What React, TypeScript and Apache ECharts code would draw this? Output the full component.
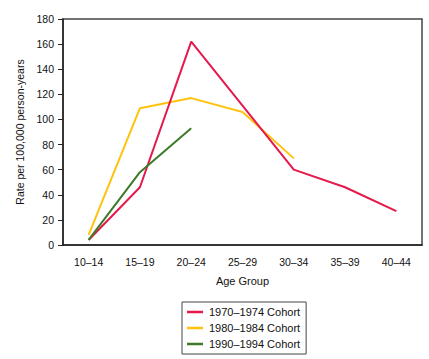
import React, { useEffect, useRef } from "react";
import * as echarts from "echarts";

const categories = ["10–14", "15–19", "20–24", "25–29", "30–34", "35–39", "40–44"];
const cohort1970 = [4, 46, 162, 111, 60, 46, 27];
const cohort1980 = [8, 109, 117, 106, 69, null, null];
const cohort1990 = [4, 58, 93, null, null, null, null];
const yTicks = { min: 0, max: 180, interval: 20 };

const FONT = "Liberation Sans, Arial, sans-serif";

export default function App() {
  const ref = useRef<HTMLDivElement>(null);
  useEffect(() => {
    if (!ref.current) return;
    const chart = echarts.init(ref.current, null, { renderer: "svg" });
    chart.setOption({
      animation: false,
      backgroundColor: "#fff",
      textStyle: { fontFamily: FONT },
      grid: {
        left: 63,
        top: 19,
        width: 359,
        height: 226,
        show: true,
        borderColor: "#444",
        borderWidth: 1.5,
      },
      legend: {
        orient: "vertical",
        left: 182,
        top: 302,
        padding: [4, 6, 4, 5],
        borderColor: "#444",
        borderWidth: 1,
        itemWidth: 16,
        itemHeight: 2.5,
        itemGap: 4,
        icon: "rect",
        textStyle: { fontSize: 11, color: "#111", fontFamily: FONT, lineHeight: 12, padding: [0, 0, 0, 1] },
        data: ["1970–1974 Cohort", "1980–1984 Cohort", "1990–1994 Cohort"],
      },
      xAxis: {
        type: "category",
        data: categories,
        boundaryGap: true,
        name: "Age Group",
        nameLocation: "middle",
        nameGap: 30,
        nameTextStyle: { fontSize: 11, color: "#111", fontFamily: FONT },
        axisLine: { lineStyle: { color: "#222", width: 1.5 } },
        axisTick: { alignWithLabel: true, length: 5, lineStyle: { color: "#222" } },
        axisLabel: { fontSize: 10.5, color: "#111", margin: 11, fontFamily: FONT },
        splitLine: { show: false },
      },
      yAxis: {
        type: "value",
        min: yTicks.min,
        max: yTicks.max,
        interval: yTicks.interval,
        name: "Rate per 100,000 person-years",
        nameLocation: "middle",
        nameGap: 33,
        nameTextStyle: { fontSize: 10.5, color: "#111", fontFamily: FONT },
        axisLine: { show: true, lineStyle: { color: "#222", width: 1.5 } },
        axisTick: { show: true, length: 5, lineStyle: { color: "#222" } },
        axisLabel: { fontSize: 10.5, color: "#111", margin: 9, fontFamily: FONT },
        splitLine: { show: false },
      },
      series: [
        {
          name: "1970–1974 Cohort",
          type: "line",
          data: cohort1970,
          symbol: "none",
          color: "#E5194B",
          lineStyle: { width: 2, color: "#E5194B" },
          z: 3,
        },
        {
          name: "1980–1984 Cohort",
          type: "line",
          data: cohort1980,
          symbol: "none",
          color: "#FFC20E",
          lineStyle: { width: 2, color: "#FFC20E" },
          z: 2,
        },
        {
          name: "1990–1994 Cohort",
          type: "line",
          data: cohort1990,
          symbol: "none",
          color: "#3D7A2A",
          lineStyle: { width: 2, color: "#3D7A2A" },
          z: 4,
        },
      ],
    });
    return () => chart.dispose();
  }, []);
  return <div ref={ref} style={{ width: 429, height: 359, position: "absolute", left: 0, top: 0 }} />;
}
